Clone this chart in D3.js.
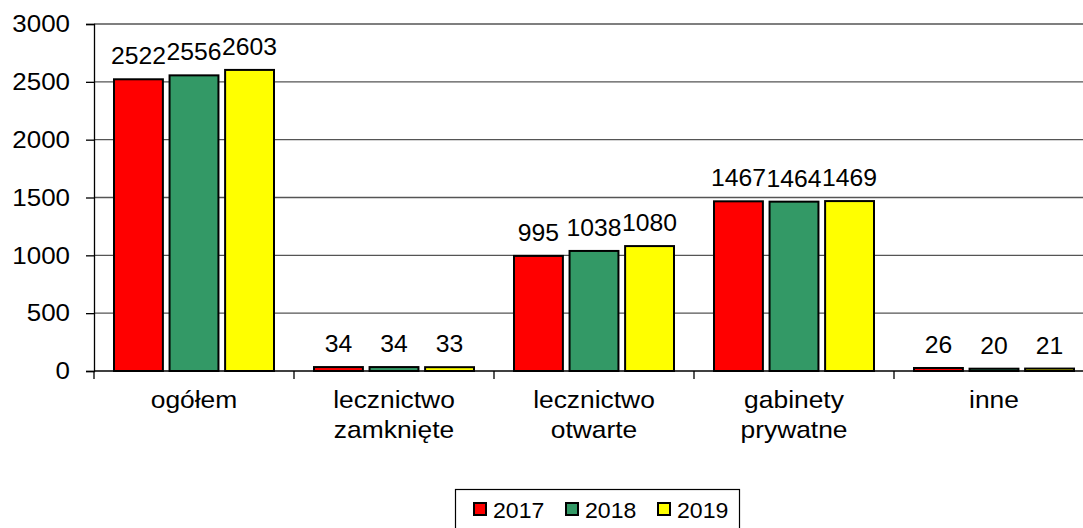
<!DOCTYPE html>
<html>
<head>
<meta charset="utf-8">
<script src="https://cdn.jsdelivr.net/npm/d3@7"></script>
<style>
  body { margin: 0; background: #fff; }
  text { font-family: Arial, "Liberation Sans", sans-serif; fill: #000; }
</style>
</head>
<body>
<script>
const categories = [["ogółem"], ["lecznictwo", "zamknięte"], ["lecznictwo", "otwarte"], ["gabinety", "prywatne"], ["inne"]];
const years = ["2017", "2018", "2019"];
const colors = ["#ff0000", "#339966", "#ffff00"];
const v2017 = [2522, 34, 995, 1467, 26];
const v2018 = [2556, 34, 1038, 1464, 20];
const v2019 = [2603, 33, 1080, 1469, 21];
const yTicks = [0, 500, 1000, 1500, 2000, 2500, 3000];

const series = [v2017, v2018, v2019];
const width = 1083, height = 528;
const plotL = 94, plotR = 1094, plotT = 24, plotB = 371;
const sx = 1.08; // tekst w oryginale jest lekko rozciągnięty w poziomie

const svg = d3.select("body").append("svg")
    .attr("width", width)
    .attr("height", height);

const x0 = d3.scaleBand()
    .domain(d3.range(categories.length))
    .range([plotL, plotR]);
const x1 = d3.scaleBand()
    .domain(d3.range(years.length))
    .range([20, x0.bandwidth() - 20])
    .paddingInner(0.12);
const y = d3.scaleLinear()
    .domain([0, 3000])
    .range([plotB, plotT]);

// siatka
svg.append("g")
    .selectAll("line")
    .data(yTicks.slice(1))
    .join("line")
    .attr("x1", plotL).attr("x2", plotR)
    .attr("y1", d => y(d)).attr("y2", d => y(d))
    .attr("stroke", "#555").attr("stroke-width", 1.3);

// oś Y
const axisY = svg.append("g")
    .attr("transform", `translate(${plotL},0)`)
    .call(d3.axisLeft(y).tickValues(yTicks).tickSize(8).tickPadding(15).tickFormat(d3.format("d")));
axisY.selectAll("text")
    .attr("x", 0)
    .attr("transform", `translate(-24,0) scale(${sx},1)`)
    .style("font-size", "24px");
axisY.select(".domain").attr("stroke", "#000").attr("stroke-width", 1.3);
axisY.selectAll(".tick line").attr("stroke", "#000").attr("stroke-width", 1.3);

// słupki
series.forEach((vals, s) => {
    svg.append("g")
        .selectAll("rect")
        .data(vals)
        .join("rect")
        .attr("x", (d, i) => x0(i) + x1(s))
        .attr("y", d => y(d))
        .attr("width", x1.bandwidth())
        .attr("height", d => y(0) - y(d))
        .attr("fill", colors[s])
        .attr("stroke", "#000")
        .attr("stroke-width", 2);
    svg.append("g")
        .selectAll("text")
        .data(vals)
        .join("text")
        .attr("transform", (d, i) => `translate(${x0(i) + x1(s) + x1.bandwidth() / 2},${y(d) - 15}) scale(1.03,1)`)
        .attr("text-anchor", "middle")
        .style("font-size", "24px")
        .text(d => d);
});

// oś X
svg.append("line")
    .attr("x1", plotL).attr("x2", plotR)
    .attr("y1", plotB).attr("y2", plotB)
    .attr("stroke", "#000").attr("stroke-width", 1.3);
svg.append("g")
    .selectAll("line")
    .data(d3.range(categories.length + 1))
    .join("line")
    .attr("x1", i => plotL + i * x0.bandwidth())
    .attr("x2", i => plotL + i * x0.bandwidth())
    .attr("y1", plotB).attr("y2", plotB + 8)
    .attr("stroke", "#000").attr("stroke-width", 1.3);

const catText = svg.append("g")
    .selectAll("text")
    .data(categories)
    .join("text")
    .attr("text-anchor", "middle")
    .attr("transform", (d, i) => `translate(${x0(i) + x0.bandwidth() / 2},408) scale(1.1,1)`)
    .style("font-size", "24px");
catText.selectAll("tspan")
    .data(d => d)
    .join("tspan")
    .attr("x", 0)
    .attr("y", (d, j) => j * 30)
    .text(d => d);

// legenda
const legend = svg.append("g");
legend.append("rect")
    .attr("x", 455.5).attr("y", 489.5)
    .attr("width", 284).attr("height", 50)
    .attr("fill", "#fff").attr("stroke", "#000").attr("stroke-width", 1.2);
const item = legend.selectAll("g")
    .data(years)
    .join("g")
    .attr("transform", (d, i) => `translate(${474 + i * 92},0)`);
item.append("rect")
    .attr("x", 0).attr("y", 503)
    .attr("width", 12).attr("height", 12)
    .attr("fill", (d, i) => colors[i])
    .attr("stroke", "#000").attr("stroke-width", 2);
item.append("text")
    .attr("transform", `translate(19,518) scale(1.05,1)`)
    .style("font-size", "22px")
    .text(d => d);
</script>
</body>
</html>
